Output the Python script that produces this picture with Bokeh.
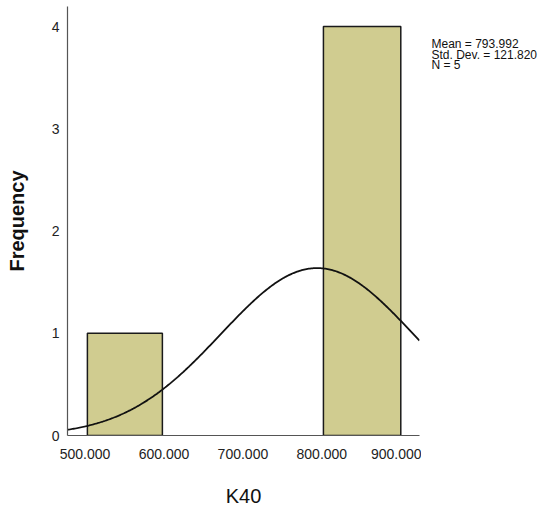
import numpy as np
from bokeh.plotting import figure
from bokeh.layouts import row
from bokeh.models import Label, FixedTicker, Range1d
from bokeh.embed import file_html
from bokeh.resources import INLINE

# data
bin_left = [503.0, 802.0]
bin_right = [598.0, 900.0]
freq = [1, 4]
x_ticks = [500, 600, 700, 800, 900]
x_tick_labels = ["500.000", "600.000", "700.000", "800.000", "900.000"]
y_ticks = [0, 1, 2, 3, 4]
mean = 793.992
std_dev = 121.820
n_obs = 5
bin_width = 100.0

p = figure(width=421, height=510, output_backend="svg", toolbar_location=None,
           x_range=Range1d(477.8, 923.7), y_range=Range1d(0, 4.196))
p.min_border_left = 67
p.min_border_right = 2
p.min_border_top = 6
p.min_border_bottom = 75
p.outline_line_color = None
p.xgrid.visible = False
p.ygrid.visible = False

p.quad(left=bin_left, right=bin_right, bottom=0, top=freq,
       fill_color="#D0CC90", line_color="#1a1a1a", line_width=1.5)

xs = np.linspace(477.8, 923.7, 300)
ys = n_obs * bin_width * np.exp(-0.5 * ((xs - mean) / std_dev) ** 2) / (std_dev * np.sqrt(2 * np.pi))
p.line(xs, ys, line_color="#111111", line_width=1.8)

for ax in (p.xaxis[0], p.yaxis[0]):
    ax.major_tick_out = 0
    ax.major_tick_in = 0
    ax.minor_tick_out = 0
    ax.minor_tick_in = 0
    ax.axis_line_color = "#555555"
    ax.axis_line_width = 1.2
    ax.major_label_text_font = "Liberation Sans"
    ax.major_label_text_font_size = "14px"
    ax.major_label_text_color = "#222222"
    ax.axis_label_text_font = "Liberation Sans"
    ax.axis_label_text_font_size = "20px"
    ax.axis_label_text_color = "#111111"

p.xaxis[0].ticker = FixedTicker(ticks=x_ticks)
p.xaxis[0].major_label_overrides = {t: l for t, l in zip(x_ticks, x_tick_labels)}
p.xaxis[0].major_label_standoff = 13
p.xaxis[0].axis_label = "K40"
p.xaxis[0].axis_label_text_font_style = "normal"
p.xaxis[0].axis_label_standoff = 23
p.yaxis[0].ticker = FixedTicker(ticks=y_ticks)
p.yaxis[0].major_label_standoff = 8
p.yaxis[0].axis_label = "Frequency"
p.yaxis[0].axis_label_text_font_style = "bold"
p.yaxis[0].axis_label_standoff = 21

# side panel holding the statistics text
s = figure(width=127, height=510, output_backend="svg", toolbar_location=None,
           x_range=Range1d(0, 127), y_range=Range1d(0, 510))
s.min_border_left = 0
s.min_border_right = 0
s.min_border_top = 0
s.min_border_bottom = 0
s.outline_line_color = None
s.axis.visible = False
s.grid.visible = False

stats_lines = ["Mean = %.3f" % mean, "Std. Dev. = %.3f" % std_dev, "N = %d" % n_obs]
for i, t in enumerate(stats_lines):
    s.add_layout(Label(x=10, y=510 - 45.0 - i * 12.5, text=t, text_font="Liberation Sans",
                       text_font_size="12px", text_color="#111111",
                       text_align="left", text_baseline="alphabetic"))

layout = row(p, s)
open("out.html", "w").write(file_html(layout, INLINE))
